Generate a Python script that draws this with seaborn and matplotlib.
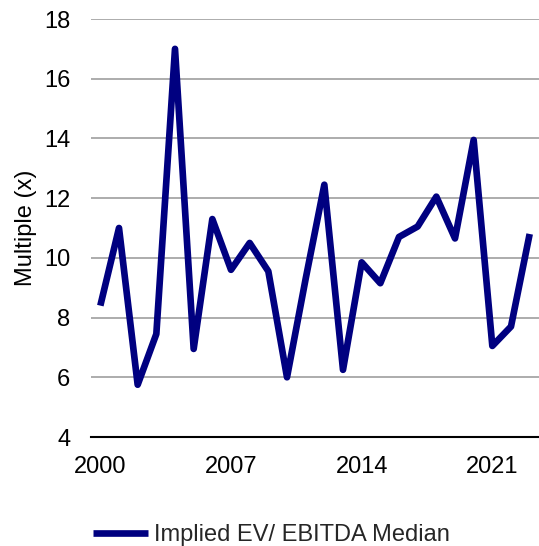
import matplotlib
matplotlib.use("Agg")
import matplotlib.pyplot as plt
import seaborn as sns
import pandas as pd

# Annual median implied EV/EBITDA multiples
years = list(range(2000, 2024))
multiples = [8.4, 11.0, 5.75, 7.45, 17.0, 6.95, 11.3, 9.6, 10.5, 9.55,
             6.0, 9.3, 12.45, 6.25, 9.85, 9.15, 10.7, 11.05, 12.05, 10.65,
             13.95, 7.05, 7.7, 10.8]
series_name = "Implied EV/ EBITDA Median"
xtick_years = [2000, 2007, 2014, 2021]
ytick_values = [4, 6, 8, 10, 12, 14, 16, 18]

df = pd.DataFrame({"Year": years, "Multiple": multiples, "Series": series_name})

sns.set_theme(style="white")
plt.rcParams["font.family"] = ["Liberation Sans", "DejaVu Sans"]

fig = plt.figure(figsize=(5.39, 5.46), dpi=100)
ax = fig.add_axes([91 / 539, 1 - 437 / 546, 1 - 91 / 539, (437 - 19) / 546])

sns.lineplot(data=df, x="Year", y="Multiple", hue="Series",
             palette=["#000080"], linewidth=4.8, ax=ax, legend=True,
             solid_joinstyle="round", solid_capstyle="butt")

ax.set_xlim(1999.5, 2023.5)
ax.set_ylim(4, 18)
ax.set_yticks(ytick_values)
ax.set_xticks(xtick_years)
ax.set_xticklabels([str(y) for y in xtick_years])
ax.tick_params(axis="both", labelsize=17, colors="black", length=0)
ax.tick_params(axis="y", pad=15)
ax.tick_params(axis="x", pad=14)

ax.grid(axis="y", color="#A6A6A6", linewidth=1.3)
ax.grid(axis="x", visible=False)
ax.set_axisbelow(True)
for side in ["left", "right", "top"]:
    ax.spines[side].set_visible(False)
ax.spines["bottom"].set_color("black")
ax.spines["bottom"].set_linewidth(1.5)
ax.spines["bottom"].set_zorder(3)

ax.set_xlabel("")
ax.set_ylabel("Multiple (x)", fontsize=17, color="black", labelpad=5)

handles, labels = ax.get_legend_handles_labels()
ax.legend_.remove()
fig.legend(handles, labels, loc="center left", bbox_to_anchor=(92.7 / 539, 1 - 535 / 546),
           frameon=False, fontsize=17, handlelength=2.35, handletextpad=0.24,
           borderaxespad=0, borderpad=0)

fig.savefig("out.png", dpi=100)
